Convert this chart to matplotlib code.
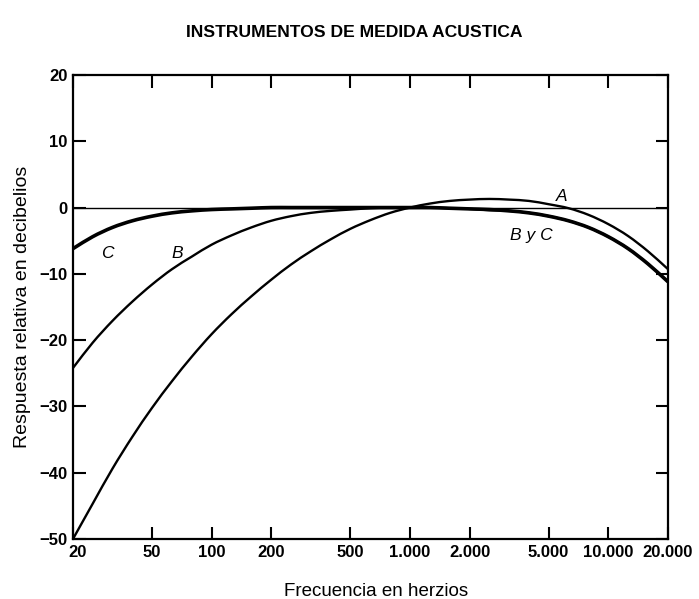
import matplotlib
matplotlib.use("Agg")
import matplotlib.pyplot as plt
import matplotlib.transforms as mtransforms
from matplotlib.path import Path
from matplotlib.patches import PathPatch
from matplotlib.ticker import FixedLocator, NullLocator
import numpy as np

plt.rcParams['font.family'] = ['Liberation Sans', 'DejaVu Sans']

# frequencies (Hz, third-octave centres) and relative response (dB)
freq = [20.0, 25.12, 31.62, 39.81, 50.12, 63.10, 79.43, 100.0, 125.9, 158.5,
        199.5, 251.2, 316.2, 398.1, 501.2, 631.0, 794.3, 1000, 1259, 1585,
        1995, 2512, 3162, 3981, 5012, 6310, 7943, 10000, 12590, 15850, 20000]
resp_a = [-50.0, -44.7, -39.4, -34.6, -30.2, -26.2, -22.5, -19.1, -16.1, -13.4,
          -10.9, -8.6, -6.6, -4.8, -3.2, -1.9, -0.8, 0.0, 0.6, 1.0, 1.2, 1.3,
          1.2, 1.0, 0.5, -0.1, -1.1, -2.5, -4.3, -6.6, -9.3]
resp_b = [-24.2, -20.4, -17.1, -14.2, -11.6, -9.3, -7.4, -5.6, -4.2, -3.0,
          -2.0, -1.3, -0.8, -0.5, -0.3, -0.1, 0.0, 0.0, 0.0, -0.1, -0.2, -0.4,
          -0.5, -0.8, -1.3, -2.0, -3.0, -4.4, -6.2, -8.5, -11.2]
resp_c = [-6.2, -4.4, -3.0, -2.0, -1.3, -0.8, -0.5, -0.3, -0.2, -0.1, 0.0, 0.0,
          0.0, 0.0, 0.0, 0.0, 0.0, 0.0, 0.0, -0.1, -0.2, -0.3, -0.5, -0.8, -1.3,
          -2.0, -3.0, -4.4, -6.2, -8.5, -11.2]

xticks = [20, 50, 100, 200, 500, 1000, 2000, 5000, 10000, 20000]
xlabels = ['20', '50', '100', '200', '500', '1.000', '2.000', '5.000', '10.000', '20.000']
yticks = [-50, -40, -30, -20, -10, 0, 10, 20]
ylabels = ['\u221250', '\u221240', '\u221230', '\u221220', '\u221210', '0', '10', '20']


def smooth_curve(ax, x, y, lw):
    # cubic Hermite through the read points, in log-frequency space
    lx = np.log10(np.asarray(x, float))
    y = np.asarray(y, float)
    n = len(lx)
    m = np.empty(n)
    m[1:-1] = (y[2:] - y[:-2]) / (lx[2:] - lx[:-2])
    m[0] = (y[1] - y[0]) / (lx[1] - lx[0])
    m[-1] = (y[-1] - y[-2]) / (lx[-1] - lx[-2])
    verts = [(x[0], y[0])]
    codes = [Path.MOVETO]
    for i in range(n - 1):
        h = lx[i + 1] - lx[i]
        verts += [(10 ** (lx[i] + h / 3), y[i] + m[i] * h / 3),
                  (10 ** (lx[i + 1] - h / 3), y[i + 1] - m[i + 1] * h / 3),
                  (x[i + 1], y[i + 1])]
        codes += [Path.CURVE4] * 3
    ax.add_patch(PathPatch(Path(verts, codes), fill=False, lw=lw,
                           edgecolor='black', capstyle='butt'))


fig = plt.figure(figsize=(6.99, 5.99), dpi=100)
ax = fig.add_axes([0.1044, 0.1002, 0.8513, 0.7746])

ax.axhline(0, color='black', lw=1.0)
smooth_curve(ax, freq, resp_a, 1.7)
smooth_curve(ax, freq, resp_b, 1.7)
smooth_curve(ax, freq, resp_c, 2.6)

ax.set_xscale('log')
ax.set_xlim(20, 20000)
ax.set_ylim(-50, 20)
ax.xaxis.set_major_locator(FixedLocator(xticks))
ax.xaxis.set_minor_locator(NullLocator())
ax.set_xticklabels(xlabels)
ax.set_yticks(yticks)
ax.set_yticklabels(ylabels)

ax.tick_params(direction='in', length=9, width=1.5, top=True, right=True,
               labelsize=12, pad=4)
for lab in ax.get_xticklabels() + ax.get_yticklabels():
    lab.set_fontweight('bold')
first = ax.get_xticklabels()[0]
first.set_transform(first.get_transform() +
                    mtransforms.ScaledTranslation(5 / 100, 0, fig.dpi_scale_trans))
for sp in ax.spines.values():
    sp.set_linewidth(1.6)

# curve labels
ax.text(29.7, -7.0, 'C', fontsize=12.5, style='italic', ha='center', va='center')
ax.text(67, -7.0, 'B', fontsize=12.5, style='italic', ha='center', va='center')
ax.text(5800, 1.7, 'A', fontsize=12.5, style='italic', ha='center', va='center')
ax.text(4100, -4.2, 'B y C', fontsize=12.5, style='italic', ha='center', va='center')

ax.set_xlabel('Frecuencia en herzios', fontsize=13.5)
ax.xaxis.set_label_coords(0.51, -0.095)
ax.set_ylabel('Respuesta relativa en decibelios', fontsize=14, labelpad=6)
fig.text(0.507, 0.945, 'INSTRUMENTOS DE MEDIDA ACUSTICA', fontsize=12.6,
         fontweight='bold', ha='center', va='center')

fig.savefig('out.png', dpi=100)
